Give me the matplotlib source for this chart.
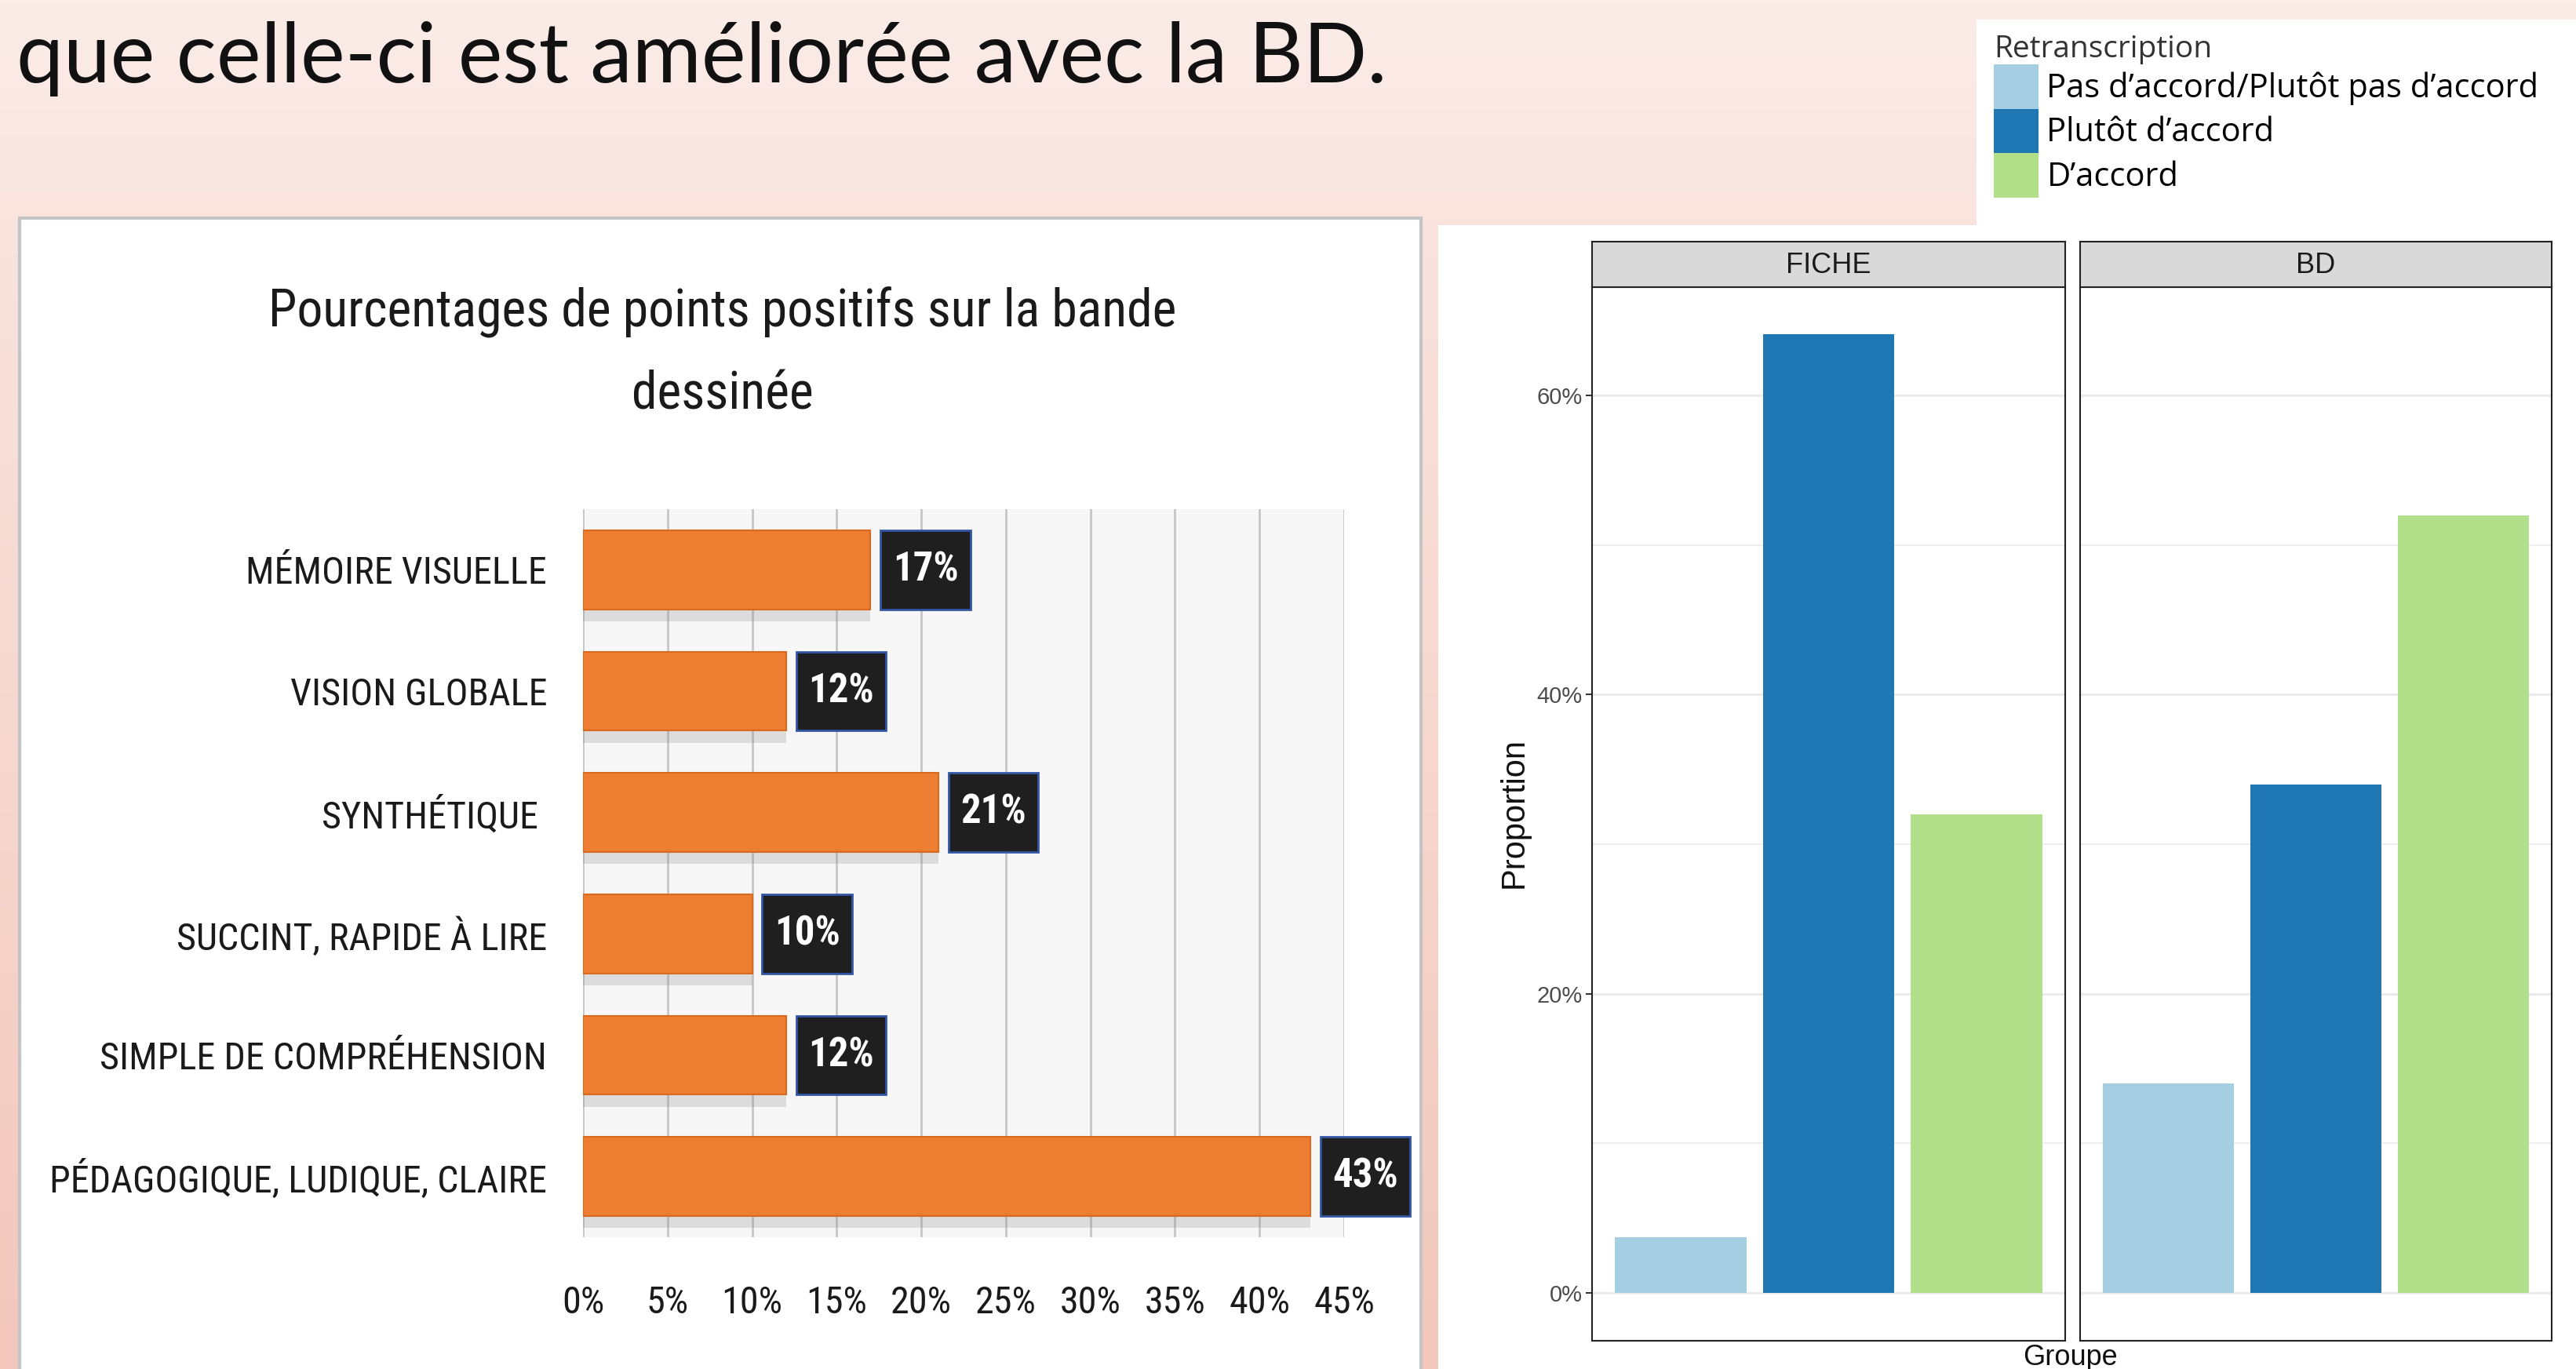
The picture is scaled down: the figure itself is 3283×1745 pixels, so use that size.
import numpy as np
import matplotlib
matplotlib.use("Agg")
import matplotlib.pyplot as plt
from matplotlib.patches import Rectangle, Patch
from matplotlib import font_manager

# --- textes et données ---
titre_diapo = "que celle-ci est améliorée avec la BD."
titre_gauche = ["Pourcentages de points positifs sur la bande", "dessinée"]
categories = ["MÉMOIRE VISUELLE", "VISION GLOBALE", "SYNTHÉTIQUE ",
              "SUCCINT, RAPIDE À LIRE", "SIMPLE DE COMPRÉHENSION",
              "PÉDAGOGIQUE, LUDIQUE, CLAIRE"]
pourcentages = [17, 12, 21, 10, 12, 43]
graduations = [0, 5, 10, 15, 20, 25, 30, 35, 40, 45]

groupes = ["FICHE", "BD"]
reponses = ["Pas d’accord/Plutôt pas d’accord", "Plutôt d’accord", "D’accord"]
prop_fiche = [3.7, 64.1, 32.0]
prop_bd = [14.0, 34.0, 52.0]
couleurs = ["#a6cee3", "#1f78b4", "#b2df8a"]

ARIAL = "Liberation Sans"


def police_etroite(gras=False):
    # cherche une police condensée installée, sinon Liberation Sans
    prefs = ["Roboto Condensed", "Noto Sans", "Open Sans", "DejaVu Sans",
             "Liberation Sans Narrow", "Lato"]
    cands = []
    for f in font_manager.fontManager.ttflist:
        etroit = ("Condensed" in f.name or "Narrow" in f.name
                  or str(f.stretch) in ("condensed", "semi-condensed", "extra-condensed"))
        if not etroit or f.style != "normal":
            continue
        poids = f.weight if isinstance(f.weight, int) else (700 if "bold" in str(f.weight) else 400)
        if gras and poids < 600:
            continue
        if not gras and not (300 <= poids <= 450):
            continue
        rang = next((i for i, p in enumerate(prefs) if f.name.startswith(p)), 99)
        cands.append((rang, abs(poids - (700 if gras else 400)), f.fname))
    if cands:
        cands.sort()
        return font_manager.FontProperties(fname=cands[0][2])
    return font_manager.FontProperties(family=ARIAL, weight="bold" if gras else "normal")


ETROITE = police_etroite()
ETROITE_GRAS = police_etroite(True)

W, H = 3283, 1745
fig = plt.figure(figsize=(W / 100, H / 100), dpi=100)


def box(x0, y0, x1, y1):
    # pixels (origine en haut à gauche) -> fraction de figure
    return [x0 / W, 1 - y1 / H, (x1 - x0) / W, (y1 - y0) / H]


# fond rose en dégradé
fond = fig.add_axes([0, 0, 1, 1], zorder=-10)
haut = np.array([251, 236, 232]) / 255
milieu = np.array([249, 228, 222]) / 255
bas = np.array([243, 199, 187]) / 255
t = np.linspace(0, 1, 400)[:, None]
grad = np.where(t < 0.16, haut + (milieu - haut) * (t / 0.16),
                milieu + (bas - milieu) * ((t - 0.16) / 0.84))
fond.imshow(grad[:, None, :].repeat(2, axis=1), aspect="auto", extent=[0, W, H, 0])
fond.set_xlim(0, W)
fond.set_ylim(H, 0)
fond.axis("off")

fond.add_patch(Rectangle((25, 278), 1811 - 25, H - 278 + 20, fc="white", ec="#c4c4c4", lw=3))
fond.add_patch(Rectangle((1833, 287), W - 1833, H - 287, fc="white", ec="none"))
fond.add_patch(Rectangle((2519, 25), W - 2519, 290 - 25, fc="white", ec="none"))

txt_diapo = fig.text(21 / W, 1 - 105 / H, titre_diapo, fontsize=77, family="Lato",
                     va="baseline", ha="left", color="#111111")

# --- graphique de gauche ---
ax1 = fig.add_axes(box(743, 649, 1713, 1577))
y = np.arange(len(categories))
ax1.barh(y + 0.1, pourcentages, height=0.65, color="#7f7f7f", alpha=0.22, zorder=2)
ax1.barh(y, pourcentages, height=0.65, color="#ed7d31", edgecolor="#d8691e", lw=1.5, zorder=3)
etiq = ax1.barh(y, 5.3, left=np.array(pourcentages) + 0.6, height=0.65,
                color="#1f1f1f", edgecolor="#3355a5", lw=2, zorder=3)
for p in etiq.patches:
    p.set_clip_on(False)
txt_valeurs = []
for i, v in enumerate(pourcentages):
    txt_valeurs.append(ax1.text(v + 0.6 + 2.65, i, f"{v}%", ha="center", va="center",
                                color="white", fontproperties=ETROITE_GRAS, fontsize=34,
                                zorder=4, clip_on=False))

ax1.set_xlim(0, 45)
ax1.set_ylim(len(categories) - 0.5, -0.5)
ax1.set_facecolor("#f7f7f7")
ax1.set_xticks(graduations)
ax1.set_xticklabels([f"{g}%" for g in graduations], fontproperties=ETROITE, color="#1a1a1a")
ax1.set_yticks(y)
ax1.set_yticklabels(categories, fontproperties=ETROITE, color="#1a1a1a")
ax1.tick_params(axis="x", length=0, pad=44, labelsize=34)
ax1.tick_params(axis="y", length=0, pad=33, labelsize=34)
ax1.grid(axis="x", color="#c6c6c6", lw=2)
ax1.set_axisbelow(True)
for s in ax1.spines.values():
    s.set_visible(False)

txt_titre = [fig.text(921 / W, 1 - 398 / H, titre_gauche[0], fontproperties=ETROITE, fontsize=50,
                      ha="center", va="center", color="#1a1a1a"),
             fig.text(921 / W, 1 - 503 / H, titre_gauche[1], fontproperties=ETROITE, fontsize=50,
                      ha="center", va="center", color="#1a1a1a")]

# --- graphique de droite (facettes) ---
positions = [(2029, 2632), (2651, 3252)]
x = np.arange(len(reponses))
for k, (nom, vals) in enumerate(zip(groupes, [prop_fiche, prop_bd])):
    x0, x1 = positions[k]
    ax = fig.add_axes(box(x0, 366, x1, 1709))
    ax.bar(x, vals, width=0.89, color=couleurs, zorder=3)
    ax.set_xlim(-0.6, 2.6)
    ax.set_ylim(-3.2, 67.25)
    ax.set_yticks([0, 20, 40, 60])
    ax.set_yticks([10, 30, 50], minor=True)
    ax.set_xticks([])
    ax.grid(which="major", axis="y", color="#ebebeb", lw=2.2)
    ax.grid(which="minor", axis="y", color="#ebebeb", lw=1.2)
    ax.set_axisbelow(True)
    for s in ax.spines.values():
        s.set_color("#222222")
        s.set_linewidth(1.5)
    ax.tick_params(axis="y", which="minor", length=0)
    if k == 0:
        ax.set_yticklabels(["0%", "20%", "40%", "60%"], fontsize=21, family=ARIAL, color="#4d4d4d")
        ax.tick_params(axis="y", which="major", length=6, width=1.5, color="#333333", pad=3)
    else:
        ax.tick_params(axis="y", which="major", length=0, labelleft=False)

    bande = fig.add_axes(box(x0, 308, x1, 366))
    bande.set_facecolor("#d9d9d9")
    bande.set_xticks([])
    bande.set_yticks([])
    for s in bande.spines.values():
        s.set_color("#222222")
        s.set_linewidth(1.5)
    bande.text(0.5, 0.47, nom, ha="center", va="center", fontsize=26, family=ARIAL,
               color="#1a1a1a", transform=bande.transAxes)

fig.text(1930 / W, 1 - 1036 / H, "Proportion", rotation=90, fontsize=30, family=ARIAL,
         ha="center", va="center", color="#111111")
fig.text(2638 / W, 1 - 1731 / H, "Groupe", fontsize=26, family=ARIAL,
         ha="center", va="center", color="#111111")

# légende
poignees = [Patch(facecolor=c, edgecolor="none") for c in couleurs]
leg = fig.legend(poignees, reponses, loc="upper left", bbox_to_anchor=(2541 / W, 1 - 44 / H),
                 frameon=False, title="Retranscription",
                 prop={"family": "Open Sans", "size": 30},
                 title_fontproperties={"family": "Open Sans", "size": 28},
                 handlelength=1.37, handleheight=1.71, handletextpad=0.25,
                 labelspacing=0.0, borderpad=0, borderaxespad=0, alignment="left")
leg.get_title().set_color("#333333")

# ajuste les tailles de police aux largeurs mesurées sur l'image de référence
fig.canvas.draw()
rend = fig.canvas.get_renderer()


def facteur(textes, cible):
    larg = max(tx.get_window_extent(rend).width for tx in textes)
    return cible / larg


f = facteur([txt_diapo], 1748)
txt_diapo.set_fontsize(txt_diapo.get_fontsize() * f)
f = facteur(txt_titre[:1], 1158)
for tx in txt_titre:
    tx.set_fontsize(tx.get_fontsize() * f)
f = facteur(txt_valeurs, 84)
for tx in txt_valeurs:
    tx.set_fontsize(tx.get_fontsize() * f)
f = facteur(ax1.get_yticklabels(), 634)
ax1.tick_params(axis="y", labelsize=34 * f)
f = facteur(ax1.get_xticklabels(), 78)
ax1.tick_params(axis="x", labelsize=34 * f)

fig.savefig("out.png", dpi=100)
